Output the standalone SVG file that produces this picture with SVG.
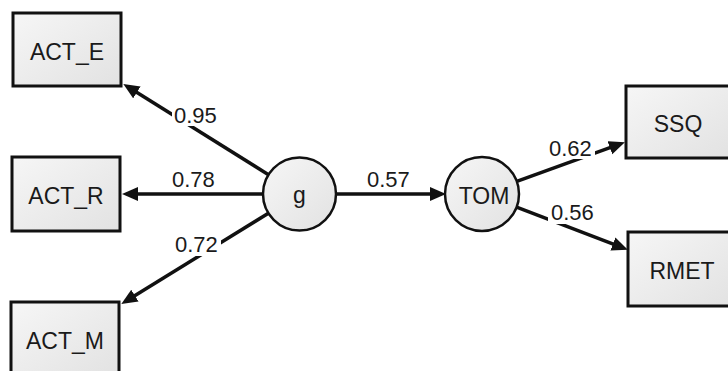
<svg xmlns="http://www.w3.org/2000/svg" width="728" height="371" viewBox="0 0 728 371">
<defs>
<linearGradient id="fill" x1="0" y1="0" x2="1" y2="1">
<stop offset="0" stop-color="#f6f6f6"/>
<stop offset="1" stop-color="#e2e2e2"/>
</linearGradient>
<marker id="arr" markerUnits="userSpaceOnUse" markerWidth="17" markerHeight="15" refX="6" refY="7" orient="auto">
<path d="M0,0 L16,7 L0,14 z" fill="#111"/>
</marker>
<style>
.box{fill:url(#fill);stroke:#111;stroke-width:3}
.circ{fill:url(#fill);stroke:#111;stroke-width:2.5}
.t{font-family:"Liberation Sans",Arial,sans-serif;font-size:23px;fill:#1a1a1a;text-anchor:middle}
.lab{font-family:"Liberation Sans",Arial,sans-serif;font-size:22px;fill:#1a1a1a}
.bg{fill:#fff}
.c{stroke:#111;stroke-width:3.5;fill:none;marker-end:url(#arr)}
</style>
</defs>
<rect width="728" height="371" fill="#fff"/>
<g id="connectors">
<line class="c" x1="268.5" y1="174.7" x2="131.8" y2="89.2"/>
<line class="c" x1="263" y1="194" x2="132" y2="194"/>
<line class="c" x1="268.4" y1="213.2" x2="129.8" y2="298.8"/>
<line class="c" x1="336" y1="194" x2="436" y2="194"/>
<line class="c" x1="516.8" y1="181.4" x2="615.5" y2="145.7"/>
<line class="c" x1="516.6" y1="207.2" x2="618.5" y2="246.1"/>
</g>
<g id="labels">
<rect class="bg" x="172" y="106" width="48" height="20"/>
<text class="lab" x="174" y="123">0.95</text>
<text class="lab" x="172" y="187">0.78</text>
<rect class="bg" x="173" y="235" width="48" height="21"/>
<text class="lab" x="175" y="252">0.72</text>
<text class="lab" x="367" y="187">0.57</text>
<rect class="bg" x="547" y="139" width="48" height="20"/>
<text class="lab" x="549" y="156">0.62</text>
<rect class="bg" x="548" y="203" width="48" height="21"/>
<text class="lab" x="551" y="220">0.56</text>
</g>
<g id="node-ACT_E">
<rect class="box" x="13" y="13" width="108" height="73"/>
<text class="t" x="67" y="60">ACT_E</text>
</g>
<g id="node-ACT_R">
<rect class="box" x="12" y="157" width="108" height="74"/>
<text class="t" x="66" y="204">ACT_R</text>
</g>
<g id="node-ACT_M">
<rect class="box" x="11" y="302" width="108" height="74"/>
<text class="t" x="65" y="349">ACT_M</text>
</g>
<g id="node-g">
<circle class="circ" cx="299.5" cy="194" r="36.5"/>
<text class="t" x="299.5" y="203">g</text>
</g>
<g id="node-TOM">
<circle class="circ" cx="482" cy="194" r="37"/>
<text class="t" x="484" y="204">TOM</text>
</g>
<g id="node-SSQ">
<rect class="box" x="626" y="86" width="104" height="72"/>
<text class="t" x="678" y="132">SSQ</text>
</g>
<g id="node-RMET">
<rect class="box" x="628" y="232" width="104" height="74"/>
<text class="t" x="682" y="279">RMET</text>
</g>
</svg>
